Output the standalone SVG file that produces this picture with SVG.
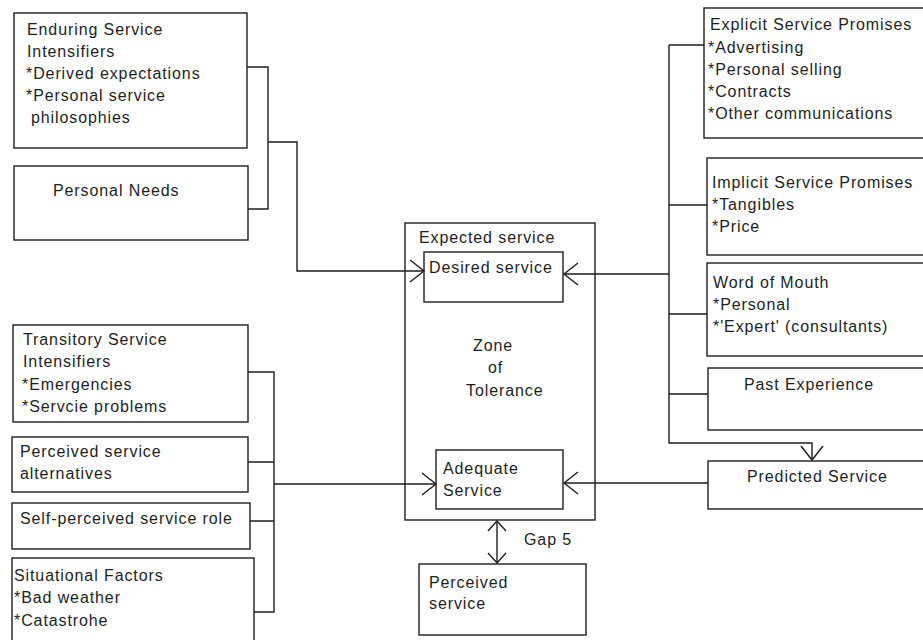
<svg xmlns="http://www.w3.org/2000/svg" width="923" height="640" viewBox="0 0 923 640">
<style>
.box{fill:#fff;stroke:#1e1e1e;stroke-width:1.4}
.ln{fill:none;stroke:#1e1e1e;stroke-width:1.4}
text{font-family:"Liberation Sans",Arial,sans-serif;font-size:16px;fill:#1e1e1e;letter-spacing:0.9px}
</style>
<defs>
<marker id="arr" viewBox="-16 -13 18 26" refX="0" refY="0" markerWidth="18" markerHeight="26" markerUnits="userSpaceOnUse" orient="auto-start-reverse">
<path d="M-14,-11 L0,0 L-14,11" fill="none" stroke="#1e1e1e" stroke-width="1.4"/>
</marker>
<marker id="arrS" viewBox="-12 -11 14 22" refX="0" refY="0" markerWidth="14" markerHeight="22" markerUnits="userSpaceOnUse" orient="auto-start-reverse">
<path d="M-10,-9 L0,0 L-10,9" fill="none" stroke="#1e1e1e" stroke-width="1.4"/>
</marker>
</defs>
<rect width="923" height="640" fill="#fff"/>

<g id="enduring">
<rect class="box" x="14" y="13" width="233" height="135"/>
<text x="27" y="35">Enduring Service</text>
<text x="27" y="57">Intensifiers</text>
<text x="26" y="79">*Derived expectations</text>
<text x="26" y="101">*Personal service</text>
<text x="31" y="123">philosophies</text>
</g>

<g id="personal-needs">
<rect class="box" x="14" y="166" width="234" height="74"/>
<text x="53" y="196">Personal Needs</text>
</g>

<g id="explicit">
<rect class="box" x="704" y="8" width="230" height="130"/>
<text x="710" y="30">Explicit Service Promises</text>
<text x="708" y="53">*Advertising</text>
<text x="708" y="75">*Personal selling</text>
<text x="708" y="97">*Contracts</text>
<text x="708" y="119">*Other communications</text>
</g>

<g id="implicit">
<rect class="box" x="707" y="158" width="230" height="97"/>
<text x="712" y="188">Implicit Service Promises</text>
<text x="712" y="210">*Tangibles</text>
<text x="712" y="232">*Price</text>
</g>

<g id="word-of-mouth">
<rect class="box" x="707" y="263" width="230" height="93"/>
<text x="713" y="288">Word of Mouth</text>
<text x="713" y="310">*Personal</text>
<text x="713" y="332">*'Expert' (consultants)</text>
</g>

<g id="past-experience">
<rect class="box" x="708" y="368" width="230" height="62"/>
<text x="744" y="390">Past Experience</text>
</g>

<g id="predicted">
<rect class="box" x="708" y="461" width="230" height="48"/>
<text x="747" y="482">Predicted Service</text>
</g>

<g id="expected">
<rect class="box" x="405" y="223" width="190" height="297"/>
<text x="419" y="243">Expected service</text>
<text x="473" y="351">Zone</text>
<text x="488" y="373">of</text>
<text x="466" y="396">Tolerance</text>
</g>

<g id="desired">
<rect class="box" x="424" y="252" width="139" height="50"/>
<text x="429" y="273">Desired service</text>
</g>

<g id="adequate">
<rect class="box" x="436" y="450" width="127" height="59"/>
<text x="443" y="474">Adequate</text>
<text x="443" y="496">Service</text>
</g>

<g id="transitory">
<rect class="box" x="13" y="325" width="235" height="97"/>
<text x="23" y="345">Transitory Service</text>
<text x="23" y="367">Intensifiers</text>
<text x="22" y="390">*Emergencies</text>
<text x="22" y="412">*Servcie problems</text>
</g>

<g id="alternatives">
<rect class="box" x="12" y="437" width="236" height="55"/>
<text x="20" y="457">Perceived service</text>
<text x="20" y="479">alternatives</text>
</g>

<g id="self-perceived">
<rect class="box" x="12" y="503" width="238" height="46"/>
<text x="20" y="524">Self-perceived service role</text>
</g>

<g id="situational">
<rect class="box" x="12" y="558" width="242" height="90"/>
<text x="14" y="581">Situational Factors</text>
<text x="14" y="603">*Bad weather</text>
<text x="14" y="626">*Catastrohe</text>
</g>

<g id="gap5">
<text x="524" y="545">Gap 5</text>
</g>

<g id="perceived">
<rect class="box" x="419" y="564" width="167" height="71"/>
<text x="429" y="588">Perceived</text>
<text x="429" y="609">service</text>
</g>

<g id="connectors">
<path class="ln" d="M247,67 H268 V209 H248"/>
<path class="ln" d="M268,142 H297 V271 H424" marker-end="url(#arr)"/>
<path class="ln" d="M669,45 V443 H812 V460" marker-end="url(#arr)"/>
<path class="ln" d="M669,45 H704 M669,205 H707 M669,314 H707 M669,394 H708"/>
<path class="ln" d="M669,274 H564" marker-end="url(#arr)"/>
<path class="ln" d="M708,483 H564" marker-end="url(#arr)"/>
<path class="ln" d="M248,372 H274 V612 H254 M248,462 H274 M250,521 H274"/>
<path class="ln" d="M274,484 H436" marker-end="url(#arr)"/>
<path class="ln" d="M497,521 V563" marker-start="url(#arrS)" marker-end="url(#arrS)"/>
</g>
</svg>
